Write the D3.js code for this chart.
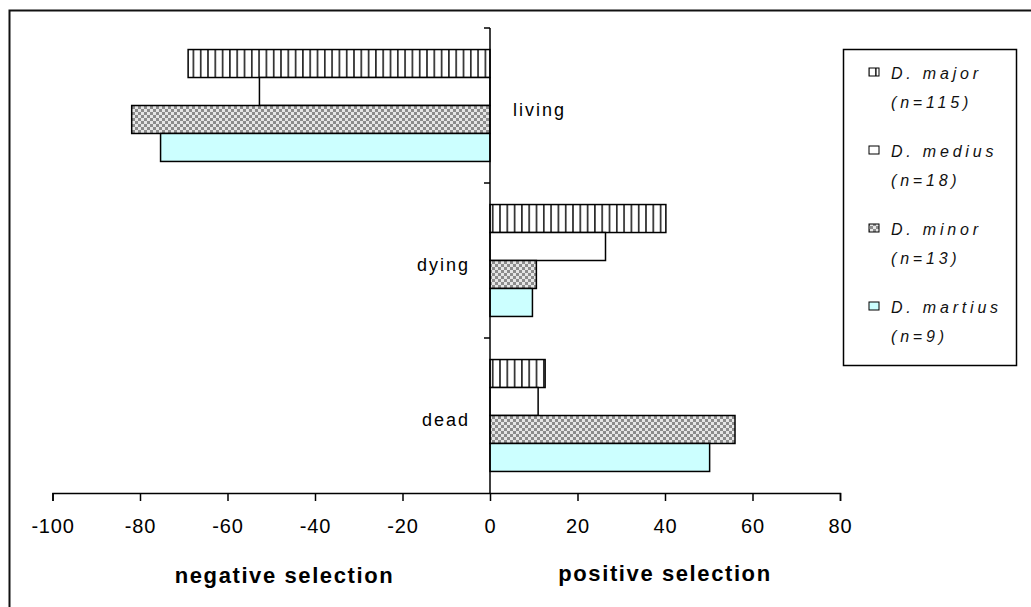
<!DOCTYPE html>
<html>
<head>
<meta charset="utf-8">
<script src="https://cdn.jsdelivr.net/npm/d3@7"></script>
<style>
  body { margin: 0; background: #fff; }
  svg { display: block; font-family: "Liberation Sans", Arial, sans-serif; }
</style>
</head>
<body>
<svg id="chart" width="1031" height="607"></svg>
<script>
// categories top to bottom, species as series
var categories = ["living", "dying", "dead"];
var species = ["D. major", "D. medius", "D. minor", "D. martius"];
var sampleSizes = ["(n=115)", "(n=18)", "(n=13)", "(n=9)"];

var majorValues = [-69, 40.2, 12.6];
var mediusValues = [-52.7, 26.4, 11];
var minorValues = [-81.9, 10.6, 56];
var martiusValues = [-75.3, 9.7, 50.2];

var xTicks = [-100, -80, -60, -40, -20, 0, 20, 40, 60, 80];

var seriesValues = [majorValues, mediusValues, minorValues, martiusValues];

var svg = d3.select("#chart");

// fills
var defs = svg.append("defs");
var stripes = defs.append("pattern")
  .attr("id", "stripes")
  .attr("patternUnits", "userSpaceOnUse")
  .attr("width", 7.3).attr("height", 10);
stripes.append("rect").attr("width", 7.3).attr("height", 10).attr("fill", "#fff");
stripes.append("line")
  .attr("x1", 3.6).attr("x2", 3.6).attr("y1", 0).attr("y2", 10)
  .attr("stroke", "#000").attr("stroke-width", 1.4);

var checks = defs.append("pattern")
  .attr("id", "checks")
  .attr("patternUnits", "userSpaceOnUse")
  .attr("width", 6).attr("height", 6);
checks.append("rect").attr("width", 6).attr("height", 6).attr("fill", "#e6e6e6");
checks.append("rect").attr("width", 3).attr("height", 3).attr("fill", "#8c8c8c");
checks.append("rect").attr("x", 3).attr("y", 3).attr("width", 3).attr("height", 3).attr("fill", "#8c8c8c");

var fills = ["url(#stripes)", "#ffffff", "url(#checks)", "#ccffff"];

// outer frame
svg.append("rect")
  .attr("x", 9.5).attr("y", 10.5)
  .attr("width", 1040).attr("height", 620)
  .attr("fill", "none")
  .attr("stroke", "#111")
  .attr("stroke-width", 2);

var x = d3.scaleLinear().domain([-100, 80]).range([52.5, 840]);

var y = d3.scaleBand().domain(categories).range([28, 493]).padding(0);

var ySeries = d3.scaleBand()
  .domain(species)
  .range([0, y.bandwidth()])
  .paddingInner(0)
  .paddingOuter(0.77);

// bars
var groups = svg.append("g").selectAll("g")
  .data(categories)
  .join("g")
  .attr("transform", function (d) { return "translate(0," + y(d) + ")"; });

groups.selectAll("rect")
  .data(function (d, ci) {
    return species.map(function (s, si) {
      return { species: s, index: si, value: seriesValues[si][ci] };
    });
  })
  .join("rect")
  .attr("x", function (d) { return x(Math.min(0, d.value)); })
  .attr("y", function (d) { return ySeries(d.species); })
  .attr("width", function (d) { return Math.abs(x(d.value) - x(0)); })
  .attr("height", ySeries.bandwidth())
  .attr("fill", function (d) { return fills[d.index]; })
  .attr("stroke", "#000")
  .attr("stroke-width", 1.5);

// x axis (plain hyphen for negatives, as in the original)
var xAxis = svg.append("g")
  .attr("transform", "translate(0," + y.range()[1] + ")")
  .call(d3.axisBottom(x)
    .tickValues(xTicks)
    .tickFormat(function (d) { return String(d); })
    .tickSize(8).tickSizeOuter(8).tickPadding(18));

xAxis.select(".domain").attr("stroke", "#000").attr("stroke-width", 1.5);
xAxis.selectAll(".tick line").attr("stroke", "#000").attr("stroke-width", 1.5);
xAxis.selectAll(".tick text")
  .attr("fill", "#000")
  .style("font-size", "20px")
  .style("letter-spacing", "0.8px")
  .style("font-family", "'Liberation Sans', Arial, sans-serif");

// category axis at zero
var zeroX = x(0);
var catAxis = svg.append("g");
catAxis.append("line")
  .attr("x1", zeroX).attr("x2", zeroX)
  .attr("y1", y.range()[0]).attr("y2", y.range()[1])
  .attr("stroke", "#000").attr("stroke-width", 1.5);

var bandEdges = categories.map(function (c) { return y(c); });
catAxis.selectAll("line.tick")
  .data(bandEdges)
  .join("line")
  .attr("class", "tick")
  .attr("x1", zeroX - 6).attr("x2", zeroX)
  .attr("y1", function (d) { return d; })
  .attr("y2", function (d) { return d; })
  .attr("stroke", "#000").attr("stroke-width", 1.5);

// category labels: on the side away from the bars
function mostlyNegative(i) {
  return d3.mean(seriesValues, function (s) { return s[i]; }) < 0;
}
catAxis.selectAll("text")
  .data(categories)
  .join("text")
  .attr("x", function (c, i) { return mostlyNegative(i) ? zeroX + 23 : zeroX - 20; })
  .attr("y", function (c) { return y(c) + y.bandwidth() / 2 + 10; })
  .attr("text-anchor", function (c, i) { return mostlyNegative(i) ? "start" : "end"; })
  .style("font-size", "18px")
  .style("letter-spacing", "2px")
  .attr("fill", "#000")
  .text(function (c) { return c; });

// axis titles
svg.append("text")
  .attr("x", x(-60) + 57)
  .attr("y", 583)
  .attr("text-anchor", "middle")
  .style("font-size", "22px")
  .style("font-weight", "bold")
  .style("letter-spacing", "1.6px")
  .text("negative selection");

svg.append("text")
  .attr("x", x(40))
  .attr("y", 581)
  .attr("text-anchor", "middle")
  .style("font-size", "22px")
  .style("font-weight", "bold")
  .style("letter-spacing", "1.6px")
  .text("positive selection");

// legend
var legend = svg.append("g").attr("transform", "translate(843,49)");
legend.append("rect")
  .attr("x", 0.5).attr("y", 0.5)
  .attr("width", 173).attr("height", 316)
  .attr("fill", "#fff")
  .attr("stroke", "#000")
  .attr("stroke-width", 1.5);

var entries = legend.selectAll("g.entry")
  .data(species)
  .join("g")
  .attr("class", "entry")
  .attr("transform", function (d, i) { return "translate(0," + (30 + i * 78) + ")"; });

entries.append("rect")
  .attr("x", 26).attr("y", -11)
  .attr("width", 10).attr("height", 8)
  .attr("fill", function (d, i) { return fills[i]; })
  .attr("stroke", "#000")
  .attr("stroke-width", 1);

entries.append("text")
  .attr("x", 48).attr("y", 0)
  .style("font-size", "16px")
  .style("font-style", "italic")
  .style("letter-spacing", "3.8px")
  .attr("fill", "#111")
  .text(function (d) { return d; });

entries.append("text")
  .attr("x", 48).attr("y", 29)
  .style("font-size", "16px")
  .style("font-style", "italic")
  .style("letter-spacing", "3.8px")
  .attr("fill", "#111")
  .text(function (d, i) { return sampleSizes[i]; });
</script>
</body>
</html>
